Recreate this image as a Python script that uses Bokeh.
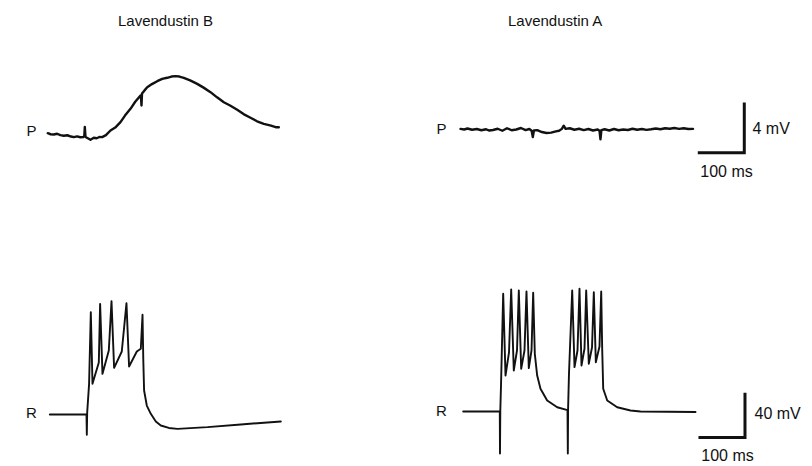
from bokeh.plotting import figure
from bokeh.models import Range1d
from bokeh.embed import file_html
from bokeh.resources import INLINE
from bokeh.core.properties import value

# ---------------- data (time in ms, potential in mV) ----------------
# Lavendustin B, postsynaptic (P) trace: potential relative to rest
pl_t = [0, 6, 12.9, 20, 27, 34.4, 42, 50, 55.9, 63, 70, 76.1, 78.5, 79.6, 80.5, 81.1, 86, 91.8, 98.9,
        105, 111, 117, 125, 134.8, 145, 156.3, 166, 177.8, 188, 199.4, 200.5, 201.5, 202.6, 208,
        213.8, 224, 235.3, 246, 256.8, 266, 274.6, 283, 292.5, 306, 321.3, 335, 349.9, 364, 378.5,
        392, 407.3, 421, 435.9, 450, 464.5, 480, 490, 496.8]
pl_v = [0.1, 0.02, 0.0, 0.06, -0.05, -0.1, -0.06, -0.16, -0.21, -0.15, -0.22, -0.21, -0.12, 0.6, 0.1,
        -0.2, -0.3, -0.42, -0.26, -0.3, -0.2, -0.21, -0.05, 0.32, 0.55, 0.98, 1.5, 2.04, 2.6, 3.1,
        2.9, 2.3, 3.25, 3.5, 3.75, 4.0, 4.23, 4.42, 4.5, 4.6, 4.63, 4.6, 4.5, 4.3, 4.02, 3.72, 3.36,
        2.95, 2.56, 2.3, 1.96, 1.62, 1.33, 1.05, 0.85, 0.7, 0.58, 0.58]

# Lavendustin A, postsynaptic (P) trace
pr_t = [0, 8, 15, 25, 35, 45, 55, 62, 70, 80, 90, 100, 110, 120, 130, 140, 148, 153, 155.5, 158,
        165, 175, 185, 195, 205, 212, 218, 222, 226, 235, 245, 255, 265, 275, 285, 295, 299, 301,
        303, 310, 320, 330, 340, 350, 360, 370, 380, 390, 400, 410, 420, 430, 440, 450, 460, 470,
        480, 490, 500]
pr_v = [0.05, 0.0, 0.08, -0.02, 0.04, -0.06, 0.02, -0.08, -0.04, 0.06, -0.1, 0.1, -0.06, 0.0, 0.12,
        -0.05, 0.04, -0.1, -0.6, -0.08, -0.05, -0.2, -0.28, -0.25, -0.15, -0.1, 0.05, 0.3, 0.05,
        0.1, -0.02, 0.06, -0.05, 0.04, -0.08, 0.0, -0.1, -0.78, -0.05, 0.02, -0.08, 0.04, -0.06,
        0.0, -0.04, 0.06, -0.02, 0.04, -0.03, 0.02, 0.08, 0.02, 0.1, 0.06, 0.12, 0.05, 0.1, 0.04,
        0.05]

# Lavendustin B, presynaptic (R) trace: membrane potential
rl_t = [0, 78.9, 79.6, 80.4, 84.5, 88.2, 91.8, 105.4, 108.2, 113.3, 126.9, 132.7, 138.3, 154.8,
        164.9, 170.5, 187.1, 195.7, 199.4, 201.1, 202.8, 208.6, 217.2, 228, 238.7, 256, 274.6,
        339.1, 410.8, 496.8]
rl_v = [-60, -60, -78.1, -58.2, -32.6, 31.3, -32.6, -13.6, 38.8, -23.7, -2.9, 41.2, -18.3, -3.75,
        39.4, -17.1, -3.75, -1.3, 29, -11.8, -38.6, -52, -59.4, -66.2, -69.8, -72, -72.8,
        -71.3, -68.9, -66.2]

# Lavendustin A, presynaptic (R) trace
rr_t = [0, 78.7, 79.1, 79.8, 81.3, 86, 91, 98.5, 103.2, 108.8, 115.7, 119.6, 124.7, 131.8, 136.1,
        141.1, 146.9, 150.5, 154, 159.1, 166.2, 180.6, 202.2, 224.3, 225, 225.6, 227.5, 234.4,
        239.4, 245.8, 250.1, 254.4, 260.9, 264.5, 270.1, 277, 280.9, 285.2, 293.1, 296.8, 298.9,
        301.1, 309.7, 331.2, 359.8, 381.3, 499.6]
rr_v = [-60, -60, -97.5, -59.1, -36.8, 45.1, -27.9, -7.3, 48.9, -23.4, -5.5, 48, -21.9, -5.5, 47.1,
        -21.3, -5.5, 46, -8.5, -27.9, -39.7, -50.2, -56.2, -58.7, -97.5, -57.3, -26.3, 48,
        -20.4, -5.5, 49.6, -18.9, -3.75, 48, -17.4, -2.9, 46.5, -16, -2, 47.1, -4,
        -39.7, -50.2, -56.2, -59.1, -60, -60.4]

titles = ["Lavendustin B", "Lavendustin A"]
row_labels = ["P", "R"]
time_bar_ms = 100
p_bar_mv = 4
r_bar_mv = 40

# ---------------- layout ----------------
W, H = 812, 466
PX_PER_MS = 0.465
PX_PER_MV_P = 12.6
PX_PER_MV_R = 1.12

p = figure(width=W, height=H, output_backend="svg", toolbar_location=None,
           x_axis_type=None, y_axis_type=None, min_border=0,
           x_range=Range1d(0, W), y_range=Range1d(H, 0))
p.grid.visible = False
p.outline_line_color = None
p.background_fill_color = "white"
p.border_fill_color = "white"


def xr(x0):
    return Range1d(-x0 / PX_PER_MS, (W - x0) / PX_PER_MS)


def yr(y0, v0, k):
    return Range1d(v0 - (H - y0) / k, v0 + y0 / k)


p.extra_x_ranges = {"L": xr(47.3), "R": xr(460), "RL": xr(49.3), "RR": xr(462.7)}
p.extra_y_ranges = {"PL": yr(134, 0, PX_PER_MV_P), "PR": yr(129, 0, PX_PER_MV_P),
                    "RL": yr(414, -60, PX_PER_MV_R), "RR": yr(411, -60, PX_PER_MV_R)}

ink = "#111111"
kw = dict(line_color=ink, line_join="round", line_cap="round")
p.line(pl_t, pl_v, x_range_name="L", y_range_name="PL", line_width=2.4, **kw)
p.line(pr_t, pr_v, x_range_name="R", y_range_name="PR", line_width=2.4, **kw)
p.line(rl_t, rl_v, x_range_name="RL", y_range_name="RL", line_width=1.9, **kw)
p.line(rr_t, rr_v, x_range_name="RR", y_range_name="RR", line_width=1.9, **kw)

# scale bars
t_a, v_a = 510.3, -1.85
p.line([t_a, t_a + time_bar_ms, t_a + time_bar_ms], [v_a, v_a, v_a + p_bar_mv],
       x_range_name="R", y_range_name="PR", line_width=3, line_color=ink, line_join="miter")
t_b, v_b = 506.0, -83.2
p.line([t_b, t_b + time_bar_ms, t_b + time_bar_ms], [v_b, v_b, v_b + r_bar_mv],
       x_range_name="RR", y_range_name="RR", line_width=3, line_color=ink, line_join="miter")

font = value("Liberation Sans")
p.text(x=[165, 555], y=[20, 20], text=titles, text_font=font, text_font_size="15px",
       text_align="center", text_baseline="middle", text_color=ink)
p.text(x=[31, 441], y=[130, 128], text=[row_labels[0]] * 2, text_font=font,
       text_font_size="15px", text_align="center", text_baseline="middle", text_color=ink)
p.text(x=[31, 441], y=[412, 410], text=[row_labels[1]] * 2, text_font=font,
       text_font_size="15px", text_align="center", text_baseline="middle", text_color=ink)
p.text(x=[752, 754], y=[128, 413], text=[f"{p_bar_mv} mV", f"{r_bar_mv} mV"], text_font=font,
       text_font_size="16px", text_align="left", text_baseline="middle", text_color=ink)
p.text(x=[726, 727], y=[171, 455], text=[f"{time_bar_ms} ms"] * 2, text_font=font,
       text_font_size="16px", text_align="center", text_baseline="middle", text_color=ink)

open("out.html", "w").write(file_html(p, INLINE))
